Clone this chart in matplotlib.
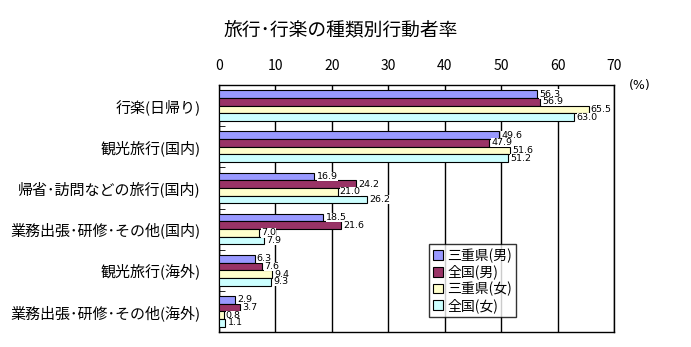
import matplotlib
matplotlib.use("Agg")
import matplotlib.pyplot as plt
import numpy as np
from matplotlib.patches import Patch

plt.rcParams['font.family'] = ['Noto Sans CJK JP', 'DejaVu Sans']

categories = ["行楽(日帰り)", "観光旅行(国内)", "帰省･訪問などの旅行(国内)",
              "業務出張･研修･その他(国内)", "観光旅行(海外)", "業務出張･研修･その他(海外)"]
series_names = ["三重県(男)", "全国(男)", "三重県(女)", "全国(女)"]
mie_male = [56.3, 49.6, 16.9, 18.5, 6.3, 2.9]
zenkoku_male = [56.9, 47.9, 24.2, 21.6, 7.6, 3.7]
mie_female = [65.5, 51.6, 21.0, 7.0, 9.4, 0.8]
zenkoku_female = [63.0, 51.2, 26.2, 7.9, 9.3, 1.1]
xticks = [0, 10, 20, 30, 40, 50, 60, 70]
colors = ["#9999FF", "#993366", "#FFFFCC", "#CCFFFF"]

series = [mie_male, zenkoku_male, mie_female, zenkoku_female]

fig = plt.figure(figsize=(6.91, 3.47), dpi=100)
ax = fig.add_axes([219/691, 1-332/347, 395/691, 247/347])

n = len(categories)
bh = 0.187
y = np.arange(n)
for i, (vals, c) in enumerate(zip(series, colors)):
    pos = y - 1.5*bh + i*bh
    ax.barh(pos, vals, height=bh, color=c, edgecolor="black", linewidth=0.8, zorder=3)
    for p, v in zip(pos, vals):
        ax.text(v + 0.4, p, f"{v:.1f}", va="center", ha="left", fontsize=6.8,
                family=['DejaVu Sans'], zorder=4,
                bbox=dict(facecolor="white", edgecolor="none", pad=0.1))

ax.set_xlim(0, 70)
ax.set_ylim(n - 0.5, -0.5)
ax.set_xticks(xticks)
ax.xaxis.tick_top()
ax.tick_params(axis='x', length=0, pad=9, labelsize=10)
ax.set_yticks(y)
ax.set_yticklabels(categories, fontsize=10.8)
ax.tick_params(axis='y', length=0, pad=13)
ax.set_yticks(np.arange(n + 1) - 0.5, minor=True)
ax.tick_params(axis='y', which='minor', direction='in', length=4, color='black')
ax.grid(axis='x', color='black', linewidth=1, zorder=1)
for s in ax.spines.values():
    s.set_color('black')
    s.set_linewidth(1)

fig.text(341/691, 1-30/347, "旅行･行楽の種類別行動者率", ha="center", va="center", fontsize=13.5)
fig.text(640/691, 1-86/347, "(%)", ha="center", va="center", fontsize=9, family=['DejaVu Sans'])

handles = [Patch(facecolor=c, edgecolor="black", linewidth=0.8) for c in colors]
leg = ax.legend(handles, series_names, loc="upper left",
                bbox_to_anchor=((429-219)/395, (332-244)/247), fontsize=10,
                frameon=True, fancybox=False, edgecolor="black", handlelength=0.7,
                handleheight=0.7, handletextpad=0.3, labelspacing=0.15, borderpad=0.3,
                borderaxespad=0)
leg.get_frame().set_linewidth(1)

fig.savefig("out.png", dpi=100)
